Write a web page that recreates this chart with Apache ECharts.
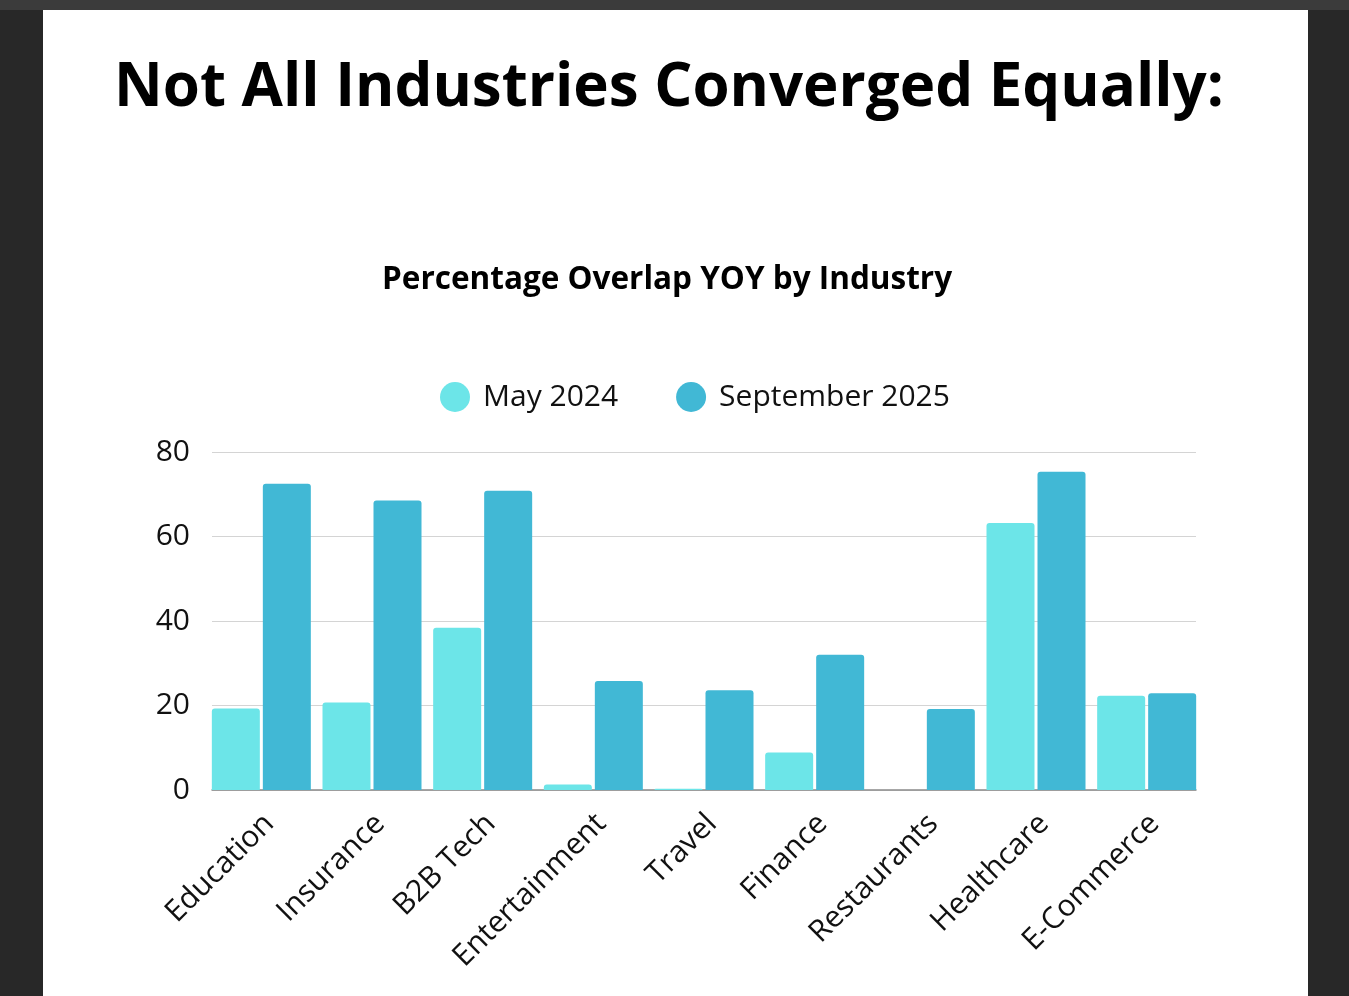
<!DOCTYPE html>
<html>
<head>
<meta charset="utf-8">
<script src="https://cdn.jsdelivr.net/npm/echarts@6/dist/echarts.min.js"></script>
<style>
html,body{margin:0;padding:0;background:#282828;width:1349px;height:996px;overflow:hidden;}
#topbar{position:absolute;left:0;top:0;width:1349px;height:10px;background:#3b3b3b;}
#panel{position:absolute;left:43px;top:10px;width:1265px;height:986px;background:#ffffff;}
#chart{position:absolute;left:0;top:0;width:1349px;height:996px;}
</style>
</head>
<body>
<div id="topbar"></div>
<div id="panel"></div>
<div id="chart"></div>
<script>
const categories = ['Education','Insurance','B2B Tech','Entertainment','Travel','Finance','Restaurants','Healthcare','E-Commerce'];
const seriesNames = ['May 2024','September 2025'];
const may2024 = [19.3, 20.7, 38.4, 1.3, 0.3, 8.9, 0, 63.2, 22.3];
const sep2025 = [72.5, 68.5, 70.8, 25.8, 23.6, 32.0, 19.2, 75.3, 22.9];
const yTicks = {min: 0, max: 80, interval: 20};
const colors = ['#6ce5e8', '#41b8d5'];

const chart = echarts.init(document.getElementById('chart'), null, {renderer: 'canvas'});
const font = '"Open Sans", "Noto Sans", sans-serif';
chart.setOption({
  backgroundColor: 'transparent',
  animation: false,
  title: [
    {text: 'Not All Industries Converged Equally:', left: 114, top: 59, padding: 0,
     textStyle: {fontFamily: font, fontWeight: 700, fontSize: 60, color: '#000'}},
    {text: 'Percentage Overlap YOY by Industry', left: 382, top: 264, padding: 0,
     textStyle: {fontFamily: font, fontWeight: 700, fontSize: 31.5, color: '#000'}}
  ],
  legend: {
    data: seriesNames, top: 382, left: 440, padding: 0, icon: 'circle',
    itemWidth: 30, itemHeight: 30, itemGap: 58,
    textStyle: {fontFamily: font, fontSize: 30, color: '#111', padding: [0, 0, 0, 8]}
  },
  grid: [
    {left: 212, right: 153, top: 452, bottom: 206},
    {left: 206, right: 147, top: 452, bottom: 206},
    {left: 214, right: 139, top: 452, bottom: 206}
  ],
  xAxis: [
    {type: 'category', gridIndex: 0, data: categories,
     axisLine: {lineStyle: {color: '#8a8a8a', width: 1.5}}, axisTick: {show: false}, axisLabel: {show: false}},
    {type: 'category', gridIndex: 1, data: categories,
     axisLine: {show: false}, axisTick: {show: false}, axisLabel: {show: false}},
    {type: 'category', gridIndex: 2, data: categories,
     axisLine: {show: false}, axisTick: {show: false},
     axisLabel: {rotate: 45, fontFamily: font, fontSize: 30, color: '#111', margin: 29, interval: 0}}
  ],
  yAxis: [
    {type: 'value', gridIndex: 0, min: yTicks.min, max: yTicks.max, interval: yTicks.interval,
     axisLine: {show: false}, axisTick: {show: false},
     splitLine: {lineStyle: {color: '#d4d4d4', width: 1.2}},
     axisLabel: {fontFamily: font, fontSize: 30, color: '#111', margin: 22}},
    {type: 'value', gridIndex: 1, min: yTicks.min, max: yTicks.max, interval: yTicks.interval, show: false},
    {type: 'value', gridIndex: 2, min: yTicks.min, max: yTicks.max, interval: yTicks.interval, show: false}
  ],
  series: [
    {name: seriesNames[0], type: 'bar', xAxisIndex: 1, yAxisIndex: 1, data: may2024,
     barWidth: 48, barGap: '6.25%', itemStyle: {color: colors[0], borderRadius: [3,3,0,0]}},
    {name: seriesNames[1], type: 'bar', xAxisIndex: 1, yAxisIndex: 1, data: sep2025,
     barWidth: 48, barGap: '6.25%', itemStyle: {color: colors[1], borderRadius: [3,3,0,0]}}
  ]
});
</script>
</body>
</html>
